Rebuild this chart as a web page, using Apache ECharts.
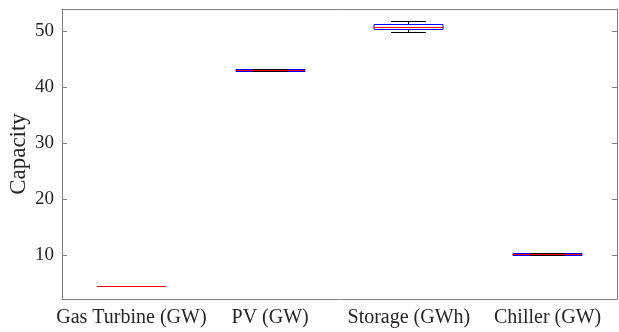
<!DOCTYPE html>
<html>
<head>
<meta charset="utf-8">
<script src="https://cdn.jsdelivr.net/npm/echarts@6/dist/echarts.min.js"></script>
<style>
  html, body { margin: 0; padding: 0; background: #fff; }
  #chart { width: 619px; height: 332px; }
</style>
</head>
<body>
<div id="chart"></div>
<script>
// Installed capacity spread per technology
const categories = ['Gas Turbine (GW)', 'PV (GW)', 'Storage (GWh)', 'Chiller (GW)'];
// Five-number summaries: lower whisker, Q1, median, Q3, upper whisker
const lowerWhisker = [4.5, 42.77, 49.7, 10.02];
const quartile1    = [4.5, 42.77, 50.18, 10.02];
const medians      = [4.5, 42.95, 50.6, 10.2];
const quartile3    = [4.5, 43.13, 51.07, 10.38];
const upperWhisker = [4.5, 43.13, 51.66, 10.38];
const yTicks = [10, 20, 30, 40, 50];

const rows = categories.map((c, i) => [i, lowerWhisker[i], quartile1[i], medians[i], quartile3[i], upperWhisker[i]]);

const axisGray = '#7f7f7f';
const textColor = '#262626';
const fontFamily = '"Liberation Serif", "Times New Roman", serif';

// snap a coordinate to the centre of a device pixel so 1px strokes stay crisp
const snap = v => Math.round(v - 0.5) + 0.5;

function renderBox(params, api) {
  const idx = api.value(0);
  const band = api.size([1, 0])[0];
  const half = band * 0.25;
  const capHalf = band * 0.125;
  const x = snap(api.coord([idx, 0])[0]);
  const yLo = snap(api.coord([idx, api.value(1)])[1]);
  const yQ1 = snap(api.coord([idx, api.value(2)])[1]);
  const yMed = snap(api.coord([idx, api.value(3)])[1]);
  const yQ3 = snap(api.coord([idx, api.value(4)])[1]);
  const yHi = snap(api.coord([idx, api.value(5)])[1]);
  const black = { stroke: '#000', lineWidth: 1 };
  const dashed = { stroke: '#000', lineWidth: 1, lineDash: [3, 2] };
  const xl = Math.round(x - half), xr = Math.round(x + half);
  return {
    type: 'group',
    children: [
      { type: 'line', shape: { x1: x, y1: yQ3, x2: x, y2: yHi }, style: dashed },
      { type: 'line', shape: { x1: x, y1: yQ1, x2: x, y2: yLo }, style: dashed },
      { type: 'polyline', shape: { points: [[xl, yQ3], [xr, yQ3], [xr, yQ1], [xl, yQ1], [xl, yQ3]] },
        style: { fill: 'none', stroke: '#0000ff', lineWidth: 1 } },
      { type: 'line', shape: { x1: Math.round(x - capHalf), y1: yHi, x2: Math.round(x + capHalf), y2: yHi }, style: black },
      { type: 'line', shape: { x1: Math.round(x - capHalf), y1: yLo, x2: Math.round(x + capHalf), y2: yLo }, style: black },
      { type: 'line', shape: { x1: xl, y1: yMed, x2: xr, y2: yMed },
        style: { stroke: '#ff0000', lineWidth: 1 } }
    ]
  };
}

const chart = echarts.init(document.getElementById('chart'), null, { renderer: 'canvas' });
const yMin = 2.2, yMax = 53.9;
chart.setOption({
  animation: false,
  backgroundColor: '#fff',
  grid: { left: 62, right: 2, top: 9, bottom: 33, containLabel: false, outerBoundsMode: 'none' },
  xAxis: [
    {
      type: 'category', data: categories, position: 'bottom', boundaryGap: true,
      axisLine: { lineStyle: { color: axisGray, width: 1 } },
      axisTick: { inside: true, alignWithLabel: true, length: 5, lineStyle: { color: axisGray } },
      axisLabel: { color: textColor, fontFamily, fontSize: 20, margin: 9, interval: 0 },
      splitLine: { show: false }
    },
    {
      type: 'category', data: categories, position: 'top', boundaryGap: true,
      axisLine: { lineStyle: { color: axisGray, width: 1 } },
      axisTick: { inside: true, alignWithLabel: true, length: 5, lineStyle: { color: axisGray } },
      axisLabel: { show: false },
      splitLine: { show: false }
    }
  ],
  yAxis: [
    {
      type: 'value', min: yMin, max: yMax, position: 'left',
      name: 'Capacity', nameLocation: 'middle', nameGap: 32, nameMoveOverlap: false,
      nameTextStyle: { color: textColor, fontFamily, fontSize: 23 },
      axisLine: { show: true, lineStyle: { color: axisGray, width: 1 } },
      axisTick: { show: true, inside: true, length: 5, customValues: yTicks, lineStyle: { color: axisGray } },
      axisLabel: { color: textColor, fontFamily, fontSize: 19, margin: 8, customValues: yTicks },
      splitLine: { show: false }
    },
    {
      type: 'value', min: yMin, max: yMax, position: 'right',
      axisLine: { show: true, lineStyle: { color: axisGray, width: 1 } },
      axisTick: { show: true, inside: true, length: 5, customValues: yTicks, lineStyle: { color: axisGray } },
      axisLabel: { show: false },
      splitLine: { show: false }
    }
  ],
  series: [
    {
      type: 'custom',
      xAxisIndex: 0, yAxisIndex: 0,
      renderItem: renderBox,
      encode: { x: 0, y: [1, 2, 3, 4, 5] },
      data: rows,
      clip: false
    }
  ]
});
</script>
</body>
</html>
